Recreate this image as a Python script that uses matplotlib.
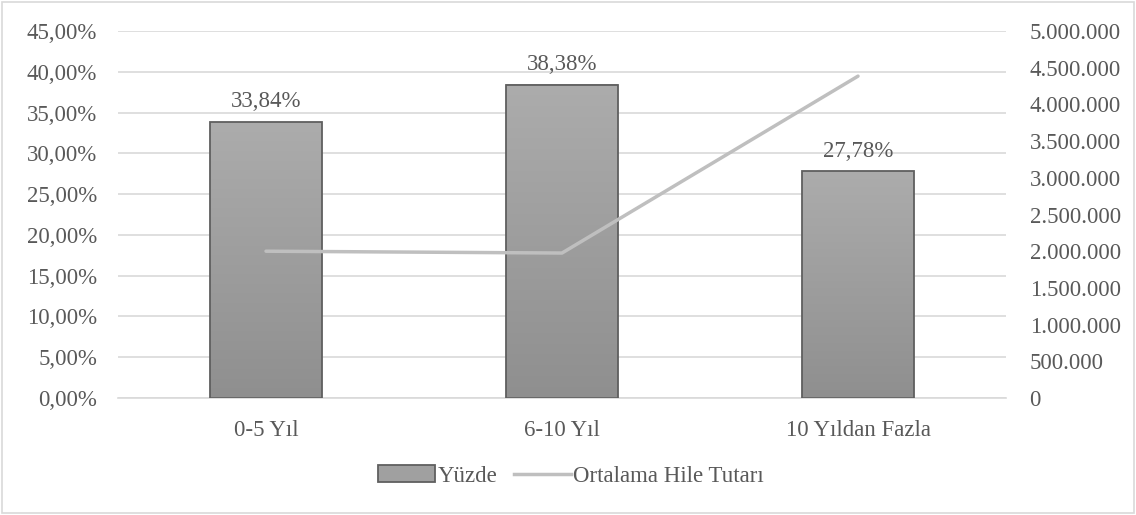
import matplotlib
matplotlib.use("Agg")
import matplotlib.pyplot as plt
import numpy as np
from matplotlib.colors import LinearSegmentedColormap
from matplotlib.lines import Line2D
from matplotlib.patches import Patch, Rectangle
from matplotlib.ticker import FuncFormatter, MultipleLocator

categories = ["0-5 Yıl", "6-10 Yıl", "10 Yıldan Fazla"]
yuzde = [33.84, 38.38, 27.78]
ortalama_hile = [2000000, 1975000, 4385000]

text_color = "#595959"
grid_color = "#d9d9d9"
line_color = "#bfbfbf"
edge_color = "#5f5f5f"
fs = 16.5

plt.rcParams["font.family"] = ["Liberation Serif", "DejaVu Serif"]
plt.rcParams["font.size"] = fs

fig = plt.figure(figsize=(11.36, 5.15), dpi=100)
ax1 = fig.add_axes([118 / 1136, 1 - 398 / 515, (1006 - 118) / 1136, (398 - 31) / 515])
ax2 = ax1.twinx()

x = np.arange(len(categories))
bar_w = 0.378
bars = ax1.bar(x, yuzde, width=bar_w, color="none", edgecolor=edge_color,
               linewidth=1.3, zorder=3)

# vertical gradient inside each bar (lighter at the top)
cmap = LinearSegmentedColormap.from_list("bar_grad", ["#8f8f8f", "#acacac"])
grad = np.linspace(0, 1, 256).reshape(-1, 1)
for b in bars:
    x0, w, h = b.get_x(), b.get_width(), b.get_height()
    ax1.imshow(grad, cmap=cmap, origin="lower", aspect="auto",
               extent=[x0, x0 + w, 0, h], zorder=2)

for xi, v in zip(x, yuzde):
    ax1.annotate(f"{v:.2f}%".replace(".", ","), (xi, v), xytext=(0, 7),
                 textcoords="offset points", ha="center", va="bottom",
                 color=text_color, fontsize=fs)

ax1.set_xlim(-0.5, len(categories) - 0.5)
ax1.set_ylim(0, 45)
ax1.yaxis.set_major_locator(MultipleLocator(5))
ax1.yaxis.set_major_formatter(FuncFormatter(lambda v, p: f"{v:.2f}%".replace(".", ",")))
ax1.set_xticks(x)
ax1.set_xticklabels(categories)
ax1.grid(axis="y", color=grid_color, linewidth=1.2, zorder=0)
ax1.set_axisbelow(True)

ax2.plot(x, ortalama_hile, color=line_color, linewidth=2.5, solid_capstyle="round",
         zorder=4)
ax2.set_ylim(0, 5000000)
ax2.yaxis.set_major_locator(MultipleLocator(500000))
ax2.yaxis.set_major_formatter(FuncFormatter(lambda v, p: f"{int(v):,}".replace(",", ".")))

for ax in (ax1, ax2):
    for s in ax.spines.values():
        s.set_visible(False)
    ax.tick_params(length=0, colors=text_color, labelsize=fs)
ax1.spines["bottom"].set_visible(True)
ax1.spines["bottom"].set_color(grid_color)
ax1.spines["bottom"].set_linewidth(1.2)
ax1.tick_params(axis="y", pad=15)
ax1.tick_params(axis="x", pad=16)
ax2.tick_params(axis="y", pad=17)

handles = [Patch(facecolor="#a0a0a0", edgecolor=edge_color, linewidth=1.3),
           Line2D([0], [0], color=line_color, linewidth=2.5)]
fig.legend(handles, ["Yüzde", "Ortalama Hile Tutarı"], loc="center",
           bbox_to_anchor=(571 / 1136, 1 - 476 / 515), ncol=2, frameon=False,
           labelcolor=text_color, fontsize=fs, handlelength=2.5,
           handletextpad=0.1, columnspacing=0.7)

fig.patches.append(Rectangle((0.002, 0.003), 0.996, 0.994, transform=fig.transFigure,
                             fill=False, edgecolor=grid_color, linewidth=1.2))

fig.savefig("out.png", dpi=100)
